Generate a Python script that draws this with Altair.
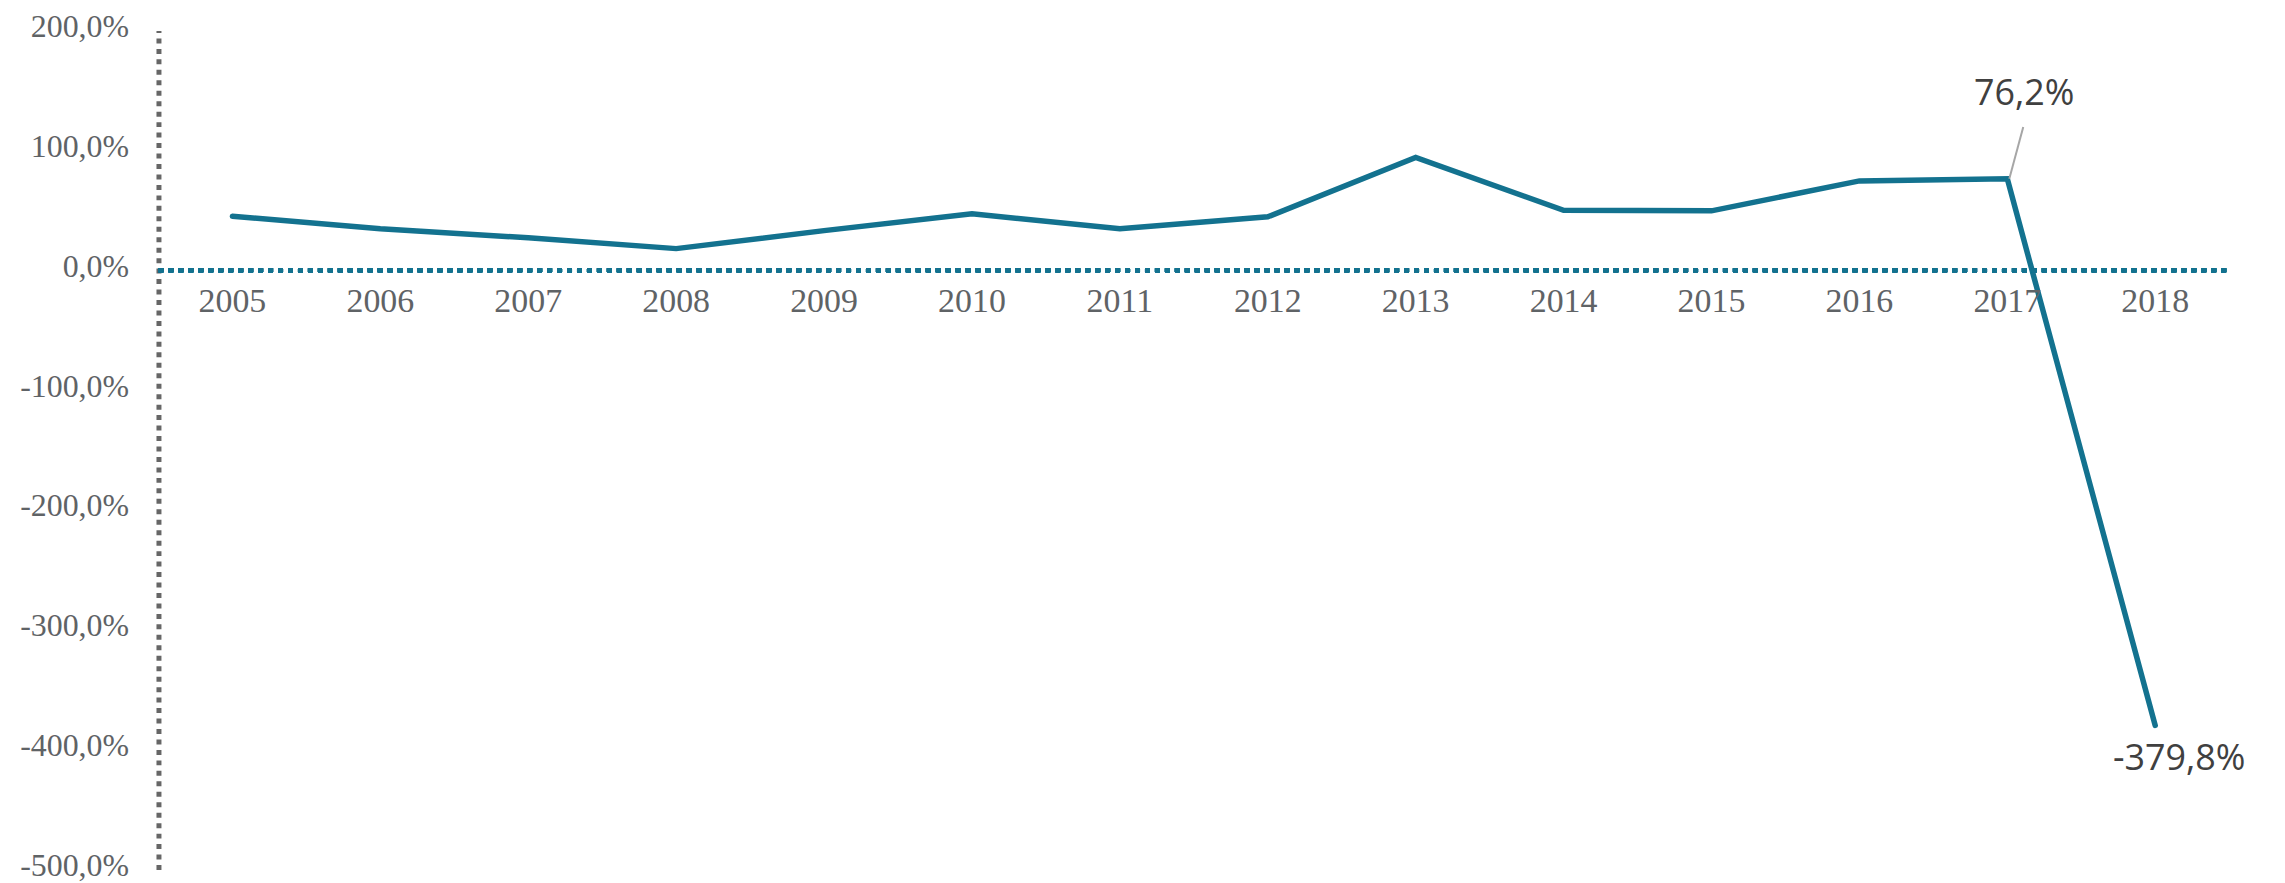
import altair as alt
import pandas as pd

years = ["2005", "2006", "2007", "2008", "2009", "2010", "2011",
         "2012", "2013", "2014", "2015", "2016", "2017", "2018"]
values = [45.0, 34.5, 27.0, 18.0, 33.0, 47.0, 34.5,
          44.5, 94.0, 50.0, 49.5, 74.5, 76.2, -379.8]

label_years = ["2017", "2018"]
label_values = [76.2, -379.8]
label_texts = ["76,2%", "-379,8%"]

TEAL = "#13728f"
GREY_TXT = "#5f6366"
W, H = 2078, 842

df = pd.DataFrame({"year": years, "value": values})
lab = pd.DataFrame({"year": label_years, "value": label_values, "text": label_texts})

x_enc = alt.X("year:O", scale=alt.Scale(type="point", padding=0.5), axis=None)
y_scale = alt.Scale(domain=[-500, 200], nice=False, zero=False)

base = alt.Chart(df)

zero_line = alt.Chart(df).mark_rule(
    color=TEAL, strokeWidth=4, strokeDash=[5, 5]
).encode(
    y=alt.datum(0, scale=y_scale),
    x=alt.value(0),
    x2=alt.value(W),
)

line = base.mark_line(color=TEAL, strokeWidth=5.5, strokeCap="round", strokeJoin="miter").encode(
    x=x_enc,
    y=alt.Y("value:Q", scale=y_scale,
            axis=alt.Axis(
                values=[200, 100, 0, -100, -200, -300, -400, -500],
                labelExpr="replace(replace(format(datum.value, '.1f'), '.', ','), '\u2212', '-') + '%'",
                ticks=False, grid=False, title=None,
                domain=True, domainColor="#666666", domainWidth=5,
                domainDash=[5, 5.5],
                labelFont="Liberation Serif", labelFontSize=32,
                labelColor=GREY_TXT, labelPadding=30, labelOffset=-4,
            )),
)

year_labels = base.mark_text(
    font="Liberation Serif", fontSize=34, color=GREY_TXT, dy=32, baseline="middle"
).encode(
    x=x_enc,
    y=alt.datum(0, scale=y_scale),
    text="year:O",
)

leader = alt.Chart(lab[lab["year"] == "2017"]).mark_rule(
    color="#a6a6a6", strokeWidth=2, xOffset=2, x2Offset=16, y2Offset=-52
).encode(
    x=x_enc, x2="year:O",
    y=alt.Y("value:Q", scale=y_scale), y2="value:Q",
)

lab_top = alt.Chart(lab[lab["year"] == "2017"]).mark_text(
    font="Open Sans", fontSize=36, color="#404040", dx=17, dy=-85, baseline="middle"
).encode(
    x=x_enc, y=alt.Y("value:Q", scale=y_scale), text="text:N",
)

lab_bot = alt.Chart(lab[lab["year"] == "2018"]).mark_text(
    font="Open Sans", fontSize=36, color="#404040", dx=24, dy=34, baseline="middle"
).encode(
    x=x_enc, y=alt.Y("value:Q", scale=y_scale), text="text:N",
)

chart = alt.layer(line, zero_line, year_labels, leader, lab_top, lab_bot).properties(
    width=W, height=H,
    autosize=alt.AutoSizeParams(type="none"),
    padding={"left": 151, "top": 21, "right": 48, "bottom": 12},
    background="white",
).configure_view(stroke=None)

chart.save("out.html", embed_options={"renderer": "svg", "actions": False})
